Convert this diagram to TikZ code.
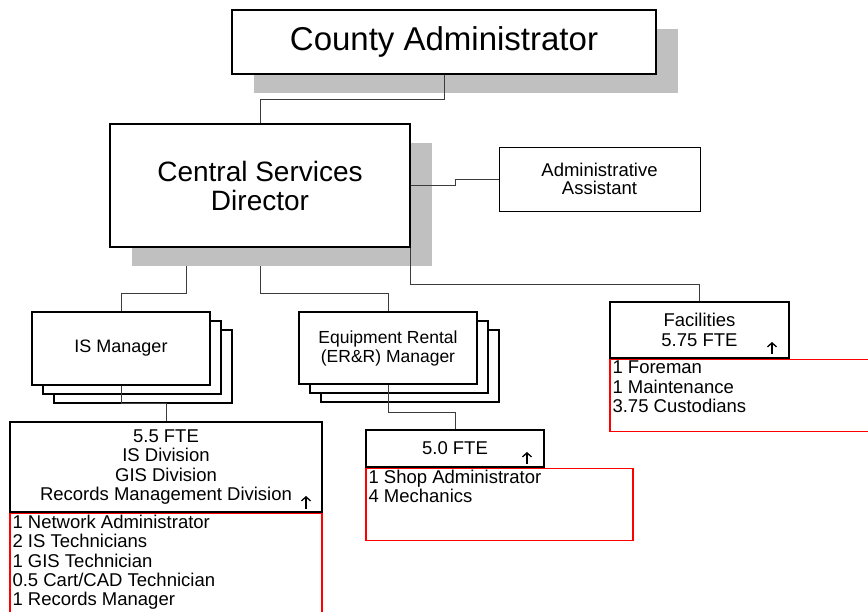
\documentclass[tikz,border=0pt]{standalone}
\usepackage{fontspec}
\setmainfont{Liberation Sans}
\usetikzlibrary{shadows,arrows.meta,backgrounds}
\definecolor{shadowgray}{RGB}{192,192,192}
\definecolor{linkgray}{RGB}{60,60,60}
\definecolor{listred}{RGB}{255,0,0}
\newcommand{\stafflist}[3]{\parbox[c][#1][t]{#2}{#3}}
\tikzset{
    post/.style={draw, line width=1.1pt, fill=white, align=center, inner sep=0pt},
    headpost/.style={post,
        drop shadow={shadow xshift=22pt, shadow yshift=-18.5pt, fill=shadowgray, opacity=1}},
    stackpost/.style={post,
        double copy shadow={shadow xshift=11pt, shadow yshift=-9pt, draw, fill=white, line width=1.1pt}},
    staff/.style={draw=listred, line width=1.2pt, anchor=north west,
        inner xsep=2.5pt, inner ysep=2pt, font=\fontsize{18.5}{19.3}\selectfont},
    link/.style={draw=linkgray, line width=0.9pt},
    uparrow/.style={line width=1.3pt, -{Straight Barb[length=4pt,width=9pt]}}
}

\begin{document}
\begin{tikzpicture}[x=1pt, y=-1pt]
        \useasboundingbox (0,0) rectangle (868,611);
        % top of the chart
        \node[headpost, minimum width=424pt, minimum height=64pt,
        font=\fontsize{33}{36}\selectfont] (county) at (444,42) {County Administrator};
        \node[headpost, minimum width=300pt, minimum height=123pt,
        font=\fontsize{28}{29}\selectfont] (central) at (260,185.5) {Central Services\\Director};
        \node[post, line width=0.9pt, minimum width=201pt, minimum height=64pt,
        font=\fontsize{18.5}{18.7}\selectfont] (admin) at (599.5,179) {Administrative\\Assistant};
        % managers
        \node[stackpost, minimum width=178pt, minimum height=73pt,
        font=\fontsize{18}{19}\selectfont] (ism) at (121,348.5) {IS Manager};
        \node[stackpost, minimum width=178pt, minimum height=72pt,
        font=\fontsize{17.5}{19}\selectfont] (err) at (388,348) {Equipment Rental\\(ER\&R) Manager};
        % FTE boxes
        \node[post, minimum width=312pt, minimum height=90pt,
        font=\fontsize{18.5}{19.3}\selectfont] (isfte) at (166,467)
        {5.5 FTE\\IS Division\\GIS Division\\Records Management Division};
        \node[post, minimum width=178pt, minimum height=37pt,
        font=\fontsize{18.5}{19.3}\selectfont] (shopfte) at (455,448.5) {5.0 FTE};
        \node[post, minimum width=179pt, minimum height=56pt,
        font=\fontsize{18.5}{19.3}\selectfont] (fac) at (699.5,330) {Facilities\\5.75 FTE};
        % staff lists
        \begin{scope}[on background layer]
            \node[staff] (isstaff) at (isfte.south west)
            {\stafflist{140pt}{307pt}{1 Network Administrator\\2 IS Technicians\\1 GIS Technician\\0.5 Cart/CAD Technician\\1 Records Manager}};
            \node[staff] (shopstaff) at (shopfte.south west)
            {\stafflist{68pt}{262pt}{1 Shop Administrator\\4 Mechanics}};
            \node[staff] (facstaff) at (fac.south west)
            {\stafflist{68pt}{275pt}{1 Foreman\\1 Maintenance\\3.75 Custodians}};
        \end{scope}
        % connectors
        \draw[link] (county.south) -- ++(0,25) -| (central.north);
        \draw[link] (central.east) -- ++(45,0) |- (admin.west);
        \draw[link] ([xshift=-74pt,yshift=-18.5pt]central.south) -- ++(0,27) -| (ism.north);
        \draw[link] ([yshift=-18.5pt]central.south) -- ++(0,27) -| (err.north);
        \draw[link] (central.south east) -- ++(0,37) -| (fac.north);
        \draw[link] (ism.south) -- ++(0,18) -| (isfte.north);
        \draw[link] (err.south) -- ++(0,28) -| (shopfte.north);
        % small arrows
        \draw[uparrow] (306,509) -- (306,496);
        \draw[uparrow] (527,464) -- (527,452);
        \draw[uparrow] (772,354) -- (772,342);
    \end{tikzpicture}
\end{document}
